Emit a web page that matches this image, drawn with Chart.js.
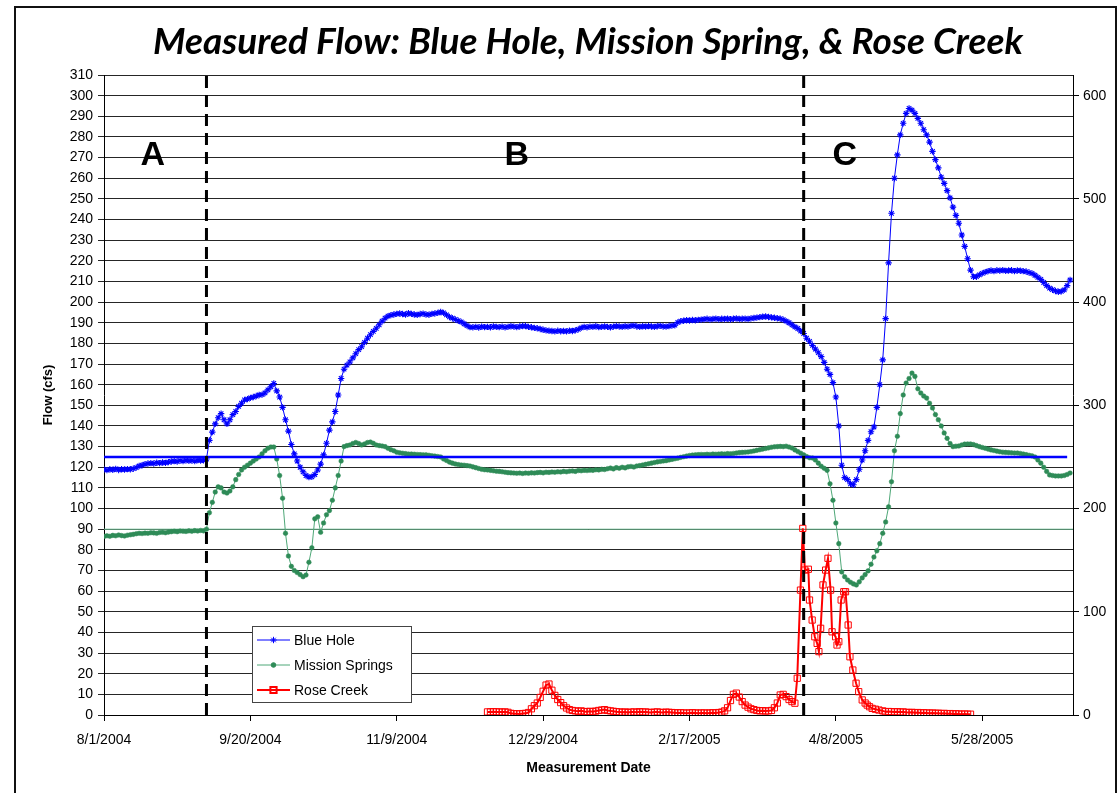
<!DOCTYPE html>
<html>
<head>
<meta charset="utf-8">
<title>Measured Flow</title>
<script src="https://cdn.jsdelivr.net/npm/chart.js@4.4.1/dist/chart.umd.min.js"></script>
<style>
  html, body { margin: 0; padding: 0; background: #fff; }
  canvas { display: block; }
</style>
</head>
<body>
<canvas id="flow" width="1119" height="793"></canvas>
<script>
// Day 0 of every series is 8/1/2004; x values are days since that date.
const seriesStart = Date.UTC(2004, 7, 1);

// Daily flow (cfs), one value per day starting at day 0.
const blueHoleFlow = [
  119, 118.6, 119, 118.8, 119.2, 118.7, 119, 118.9, 119.1, 119,
  119.3, 119.8, 120.6, 121, 121.5, 121.8, 122, 121.8, 122.2, 122,
  122.3, 122.1, 122.5, 122.8, 123, 122.8, 123.2, 123, 123.4, 123.1,
  123.3, 123, 123.5, 123.2, 123.4, 124, 133, 137, 141, 144,
  146, 143, 141, 143, 145.5, 147, 149.5, 151, 152.6, 153,
  153.6, 154, 154.5, 155, 155.2, 156, 157.5, 159, 160.6, 157,
  154, 149, 143, 137.5, 131, 126.5, 123, 120, 117.8, 116,
  115.2, 115.4, 116.5, 118.7, 121.5, 126, 131.6, 138, 142, 147,
  155, 163, 167.5, 169.5, 171, 173, 175, 177, 178.4, 180.5,
  182.5, 184.2, 185.8, 187.3, 189, 190.8, 192.2, 193.2, 193.7, 194,
  194.3, 194.5, 194.2, 194, 194.6, 194.3, 194, 193.8, 194.2, 194.4,
  194, 193.9, 194.3, 194.5, 194.8, 195.2, 194.8, 193.8, 192.8, 192.2,
  191.6, 191, 190.4, 189.5, 188.6, 187.9, 187.8, 188, 187.7, 188.1,
  187.9, 188, 187.8, 188.2, 188, 187.9, 188.1, 187.8, 188, 188.3,
  188.1, 187.9, 188.2, 188.4, 188.4, 188, 187.8, 187.5, 187.3, 187,
  186.6, 186.3, 186.1, 186, 185.8, 186.1, 185.9, 186, 185.8, 186.2,
  186, 186.3, 186.8, 187.5, 188, 187.8, 188.1, 188, 188.3, 187.9,
  188, 188.2, 188, 187.8, 188.1, 188.4, 188.2, 188, 188.3, 188.1,
  188.5, 188.6, 188.2, 188, 188.3, 188.1, 188.4, 188.2, 188, 188.3,
  188.5, 188.2, 188.1, 188.4, 188.6, 188.8, 190.2, 190.8, 191, 191.2,
  191.1, 191.3, 191.2, 191.4, 191.5, 191.7, 191.9, 191.6, 191.8, 192,
  191.7, 191.9, 191.8, 192, 191.7, 191.9, 192.1, 191.8, 191.9, 192,
  191.8, 192.1, 192.3, 192.5, 192.7, 192.9, 193, 192.8, 192.6, 192.4,
  192.2, 192, 191.5, 190.8, 190, 189, 188, 187.2, 186, 184.8,
  182.5, 181, 179, 177.2, 175.5, 173.6, 170.8, 167.5, 165, 161,
  154, 140, 121, 115, 114, 112, 111.5, 114, 119, 123.5,
  128, 133, 137.2, 139.5, 149, 160, 172, 192, 219, 243,
  260, 271.3, 281, 286.6, 291.4, 293.8, 293, 291.4, 289, 286.6,
  283.5, 281, 277.5, 273, 269, 265, 260.5, 257.5, 254, 250.5,
  246, 242, 238.2, 232.5, 227, 221, 215.5, 212.3, 212.3, 213.2,
  213.9, 214.5, 215, 215.3, 215, 215.4, 215.2, 215.5, 215.1, 215.3,
  215.4, 215, 215.3, 215.2, 215, 214.8, 214.3, 213.9, 213, 212,
  211, 209.5, 208, 206.8, 206, 205.4, 205, 205.2, 205.9, 208,
  210.7
];

const missionSpringsFlow = [
  86.5, 86.8, 86.6, 87, 86.8, 87.2, 86.9, 86.7, 87.1, 87.3,
  87.5, 87.8, 88, 87.9, 88.1, 88, 88.3, 88.2, 88, 88.4,
  88.5, 88.3, 88.6, 88.8, 89, 88.8, 89.1, 89, 88.9, 89.2,
  89, 89.3, 89.1, 89.4, 89.2, 90, 98, 103, 108, 110.5,
  110, 108, 107.5, 108.5, 110.5, 114, 116.5, 118.7, 120, 121,
  122, 123, 124, 125, 126.5, 128, 129.2, 129.8, 129.8, 124,
  116, 105, 88, 77, 72, 70, 69, 68, 67, 67.8,
  74, 81, 95, 96, 88.5, 93, 97, 99, 104, 110,
  116, 123, 130, 130.5, 130.8, 131.5, 132, 131.5, 130.8, 131.3,
  132, 132.2, 131.6, 130.8, 130.5, 130.3, 130, 129.2, 128.5, 128,
  127.3, 127, 126.8, 126.6, 126.4, 126.4, 126.3, 126.2, 126.1, 126,
  126, 125.8, 125.6, 125.4, 125.2, 125, 124, 123.3, 122.5, 122,
  121.6, 121.3, 121.1, 121, 120.8, 120.6, 120.2, 119.8, 119.4, 119,
  118.8, 118.7, 118.5, 118.3, 118.1, 118, 117.8, 117.6, 117.4, 117.3,
  117.2, 117.1, 117.2, 117, 117.2, 117.1, 117.3, 117.2, 117.4, 117.5,
  117.3, 117.6, 117.5, 117.7, 117.6, 117.8, 117.7, 118, 117.8, 118.1,
  118.2, 118, 118.4, 118.3, 118.5, 118.4, 118.6, 118.5, 118.8, 118.7,
  119, 118.9, 119.3, 119.6, 119.2, 119.8, 119.5, 120, 119.7, 120.2,
  120.4, 120.1, 120.6, 120.8, 121.1, 121.4, 121.7, 122, 122.3, 122.6,
  122.8, 123, 123.2, 123.5, 123.8, 124.1, 124.4, 124.8, 125.1, 125.4,
  125.7, 125.9, 126, 126.1, 126.2, 126.1, 126.3, 126.2, 126.4, 126.3,
  126.4, 126.5, 126.4, 126.6, 126.5, 126.7, 126.9, 127.1, 127.2, 127.3,
  127.4, 127.6, 127.9, 128.2, 128.5, 128.8, 129.1, 129.4, 129.7, 129.9,
  130, 130.1, 130, 130.2, 129.8, 129.3, 128.4, 127.6, 126.8, 126,
  125.2, 124.6, 124.5, 123.5, 122, 120.5, 119.5, 118.5, 112, 104,
  93, 83, 69.3, 67, 65.4, 64.3, 63.5, 63, 64.5, 66.4,
  68, 69.8, 73, 76.5, 79.5, 83, 88, 93.5, 100.8, 113,
  128, 135, 146, 155, 160.8, 163, 165.6, 164, 158, 156,
  154.5, 153.5, 151, 148.7, 145.5, 143, 140, 136.6, 134, 131.5,
  130, 130.2, 130.3, 130.8, 131.2, 131.3, 131.3, 131, 130.5, 130,
  129.6, 129.2, 128.8, 128.4, 128.1, 127.8, 127.5, 127.3, 127.2, 127.1,
  127, 126.9, 126.9, 126.7, 126.4, 126.1, 125.8, 125.5, 125, 123.5,
  122, 120, 118, 116.3, 116, 115.8, 115.8, 115.8, 116, 116.5,
  117.2
];

// Rose Creek was gauged from December on, more often during the spring storm.
const roseCreekDays = [
  131, 132, 133, 134, 135, 136, 137, 138, 139, 140,
  141, 142, 143, 144, 145, 146, 147, 148, 149, 150,
  151, 152, 153, 154, 155, 156, 157, 158, 159, 160,
  161, 162, 163, 164, 165, 166, 167, 168, 169, 170,
  171, 172, 173, 174, 175, 176, 177, 178, 179, 180,
  181, 182, 183, 184, 185, 186, 187, 188, 189, 190,
  191, 192, 193, 194, 195, 196, 197, 198, 199, 200,
  201, 202, 203, 204, 205, 206, 207, 208, 209, 210,
  211, 212, 213, 214, 215, 216, 217, 218, 219, 220,
  221, 222, 223, 224, 225, 226, 227, 228, 229, 230,
  231, 232, 233, 234, 235, 236, 236.8, 237.9, 238.7, 239.4,
  240.6, 241, 241.9, 242.8, 243.6, 244.2, 244.8, 245.6, 246.5, 247.3,
  248.2, 248.7, 249.9, 250.4, 251, 251.8, 252.7, 253.3, 254.2, 254.8,
  255.8, 256.9, 257.8, 259, 260, 260.7, 261.5, 262.4, 263.5, 264.7,
  266, 266.9, 268, 269, 270, 271, 272, 273, 274, 275,
  276, 277, 278, 279, 280, 281, 282, 283, 284, 285,
  286, 287, 288, 289, 290, 291, 292, 293, 294, 295,
  296
];
const roseCreekFlow = [
  1.5, 1.5, 1.6, 1.5, 1.5, 1.4, 1.5, 1.3, 0.8, 0.6,
  0.6, 0.5, 0.7, 0.8, 1.2, 3, 4.5, 5.8, 8.5, 11.5,
  14.5, 15, 12, 9.5, 7.5, 6, 4.5, 3.4, 2.6, 2.2,
  2, 1.8, 2, 1.7, 1.6, 1.8, 1.6, 1.9, 2.2, 2.4,
  2.6, 2.2, 2, 1.8, 1.6, 1.5, 1.3, 1.5, 1.2, 1.4,
  1.5, 1.3, 1.6, 1.4, 1.5, 1.3, 1.2, 1.4, 1.5, 1.3,
  1.2, 1.4, 1.3, 1.2, 1.1, 1, 1.1, 1, 0.9, 1,
  1.1, 1, 0.9, 1, 1, 0.9, 1, 1.1, 1, 1.2,
  1.4, 2, 3.5, 7, 10, 10.6, 8.7, 6.5, 4.8, 3.8,
  3, 2.6, 2.2, 2, 2.1, 1.9, 2, 2.2, 3.5, 5.8,
  9.7, 10, 8.9, 7.5, 6.5, 5.7, 17.8, 60.5, 90.4, 70.2,
  70.6, 55.7, 46, 37.9, 34.7, 30.7, 42, 63, 70.2, 75.9,
  60.5, 40.3, 37.9, 33.9, 35.5, 55.7, 59.7, 59.7, 43.6, 28.2,
  21.8, 15.4, 11.3, 7.3, 5.8, 4.8, 4, 3.2, 2.8, 2.4,
  2, 1.6, 1.7, 1.6, 1.5, 1.6, 1.4, 1.5, 1.3, 1.2,
  1.3, 1.1, 1.2, 1, 1.1, 1, 0.9, 1, 0.8, 0.9,
  0.7, 0.8, 0.6, 0.7, 0.5, 0.6, 0.5, 0.4, 0.5, 0.4,
  0.4
];

// Period boundaries (days) and the two reference flows (cfs).
const periodBoundaryDays = [35, 239];
const periodLabels = ['A', 'B', 'C'];
const referenceFlows = [125, 90];

// Axis ranges and tick steps.
const dayRange = [0, 331];
const dayTickStep = 50;
const flowRange = [0, 310];
const flowTickStep = 10;
const secondaryRange = [0, 620];
const secondaryTickStep = 100;

function dayLabel(day) {
  const d = new Date(seriesStart + day * 86400000);
  return (d.getUTCMonth() + 1) + '/' + d.getUTCDate() + '/' + d.getUTCFullYear();
}
const toPoints = (xs, ys) => ys.map((y, i) => ({ x: xs ? xs[i] : i, y }));

const BLUE = '#0000ff';
const GREEN = '#2e8b57';
const GREEN_LINE = '#4fa878';
const RED = '#ff0000';

Chart.defaults.font.family = '"Liberation Sans", Arial, sans-serif';
Chart.defaults.color = '#000';

const series = [
  { label: 'Blue Hole', data: toPoints(null, blueHoleFlow), borderColor: BLUE, borderWidth: 1,
    pointStyle: 'star', pointRadius: 3.2, pointBorderColor: BLUE, pointBackgroundColor: BLUE,
    pointBorderWidth: 1.1, order: 2 },
  { label: 'Mission Springs', data: toPoints(null, missionSpringsFlow), borderColor: GREEN_LINE, borderWidth: 1,
    pointStyle: 'circle', pointRadius: 2.3, pointBorderColor: GREEN, pointBackgroundColor: GREEN,
    pointBorderWidth: 0.5, order: 3 },
  { label: 'Rose Creek', data: toPoints(roseCreekDays, roseCreekFlow), borderColor: RED, borderWidth: 2,
    pointStyle: 'rect', pointRadius: 4.4, pointBorderColor: RED, pointBackgroundColor: 'rgba(255,255,255,0)',
    pointBorderWidth: 1, order: 2 }
];

const guides = [
  { label: 'ref-blue', data: [{ x: dayRange[0], y: referenceFlows[0] }, { x: 329, y: referenceFlows[0] }],
    borderColor: BLUE, borderWidth: 2.5, pointRadius: 0, order: 1 },
  { label: 'ref-green', data: [{ x: dayRange[0], y: referenceFlows[1] }, { x: dayRange[1], y: referenceFlows[1] }],
    borderColor: '#6cbb92', borderWidth: 1, pointRadius: 0, order: 6 },
  ...periodBoundaryDays.map((d) => ({
    label: 'boundary-' + d, data: [{ x: d, y: flowRange[0] }, { x: d, y: flowRange[1] }],
    borderColor: '#000', borderWidth: 3, borderDash: [12, 7], pointRadius: 0, order: 0
  }))
];

const chartDecor = {
  id: 'chartDecor',
  beforeDraw(chart) {
    const { ctx } = chart;
    ctx.save();
    ctx.fillStyle = '#fff';
    ctx.fillRect(0, 0, chart.width, chart.height);
    ctx.strokeStyle = '#111';
    ctx.lineWidth = 2;
    ctx.strokeRect(15, 7, 1101, 800);
    ctx.restore();
  },
  afterDatasetsDraw(chart, args, opts) {
    const { ctx, scales } = chart;
    ctx.save();
    ctx.fillStyle = '#000';
    ctx.font = 'bold 34px "Liberation Sans", Arial, sans-serif';
    ctx.textAlign = 'center';
    ctx.textBaseline = 'middle';
    opts.periodAnchors.forEach((a, i) => {
      ctx.fillText(periodLabels[i], scales.x.getPixelForValue(a[0]), scales.y.getPixelForValue(a[1]));
    });
    ctx.restore();
  },
  afterDraw(chart, args, opts) {
    const { ctx } = chart;
    ctx.save();
    // chart title
    ctx.fillStyle = '#000';
    ctx.font = 'italic bold 37px Lato, "Open Sans", sans-serif';
    ctx.textAlign = 'center';
    ctx.textBaseline = 'middle';
    ctx.fillText(opts.title, 588, 42);

    // legend
    const box = opts.legendBox;
    ctx.fillStyle = '#fff';
    ctx.fillRect(box.x, box.y, box.w, box.h);
    ctx.strokeStyle = '#444';
    ctx.lineWidth = 1;
    ctx.strokeRect(box.x + 0.5, box.y + 0.5, box.w, box.h);
    ctx.font = '14px "Liberation Sans", Arial, sans-serif';
    ctx.textAlign = 'left';
    series.forEach((s, i) => {
      const y = box.y + 14 + i * 25;
      const x0 = box.x + 5, x1 = box.x + 38;
      ctx.strokeStyle = s.borderColor;
      ctx.lineWidth = s.borderWidth;
      ctx.beginPath();
      ctx.moveTo(x0, y);
      ctx.lineTo(x1, y);
      ctx.stroke();
      ctx.strokeStyle = s.pointBorderColor;
      ctx.fillStyle = s.pointBackgroundColor;
      Chart.helpers.drawPoint(ctx, {
        pointStyle: s.pointStyle, radius: s.pointRadius, borderWidth: s.pointBorderWidth, rotation: 0
      }, (x0 + x1) / 2, y);
      ctx.fillStyle = '#000';
      ctx.fillText(s.label, x1 + 4, y + 1);
    });
    ctx.restore();
  }
};

new Chart(document.getElementById('flow'), {
  type: 'line',
  data: { datasets: [...series, ...guides] },
  options: {
    responsive: false,
    animation: false,
    devicePixelRatio: 1,
    layout: { padding: { top: 75, left: 0, right: 0, bottom: 0 } },
    elements: { line: { tension: 0, fill: false } },
    plugins: {
      legend: { display: false },
      tooltip: { enabled: false },
      chartDecor: {
        title: 'Measured Flow: Blue Hole, Mission Spring, & Rose Creek',
        periodAnchors: [[16.7, 271], [141, 271], [253, 271]],
        legendBox: { x: 252, y: 626, w: 159, h: 76 }
      }
    },
    scales: {
      x: {
        type: 'linear',
        min: dayRange[0], max: dayRange[1],
        ticks: {
          stepSize: dayTickStep, autoSkip: false, maxRotation: 0, padding: 11,
          font: { size: 14 }, color: '#000',
          callback: (v) => dayLabel(v)
        },
        afterBuildTicks: (s) => { s.ticks = s.ticks.filter((t) => t.value % dayTickStep === 0); },
        afterFit: (s) => { s.height = 78; },
        grid: { drawOnChartArea: false, drawTicks: true, tickLength: 6, color: '#000' },
        border: { color: '#000', width: 1 },
        title: { display: true, text: 'Measurement Date', font: { size: 14, weight: 'bold' },
                 color: '#000', padding: { top: 0, bottom: 16 } }
      },
      y: {
        position: 'left',
        min: flowRange[0], max: flowRange[1],
        ticks: { stepSize: flowTickStep, autoSkip: false, padding: 5, font: { size: 14 }, color: '#000' },
        afterFit: (s) => { s.width = 104; },
        grid: { color: '#262626', lineWidth: 1, tickLength: 6 },
        border: { color: '#000', width: 1 },
        title: { display: true, text: 'Flow (cfs)', font: { size: 13, weight: 'bold' },
                 color: '#000', padding: { top: 41, bottom: 0 } }
      },
      y2: {
        position: 'right',
        min: secondaryRange[0], max: secondaryRange[1],
        ticks: { stepSize: secondaryTickStep, autoSkip: false, padding: 4, font: { size: 14 }, color: '#000' },
        afterBuildTicks: (s) => { s.ticks = s.ticks.filter((t) => t.value <= 600); },
        afterFit: (s) => { s.width = 46; },
        grid: { drawOnChartArea: false, tickLength: 6, color: '#000' },
        border: { color: '#000', width: 1 }
      }
    }
  },
  plugins: [chartDecor]
});
</script>
</body>
</html>
